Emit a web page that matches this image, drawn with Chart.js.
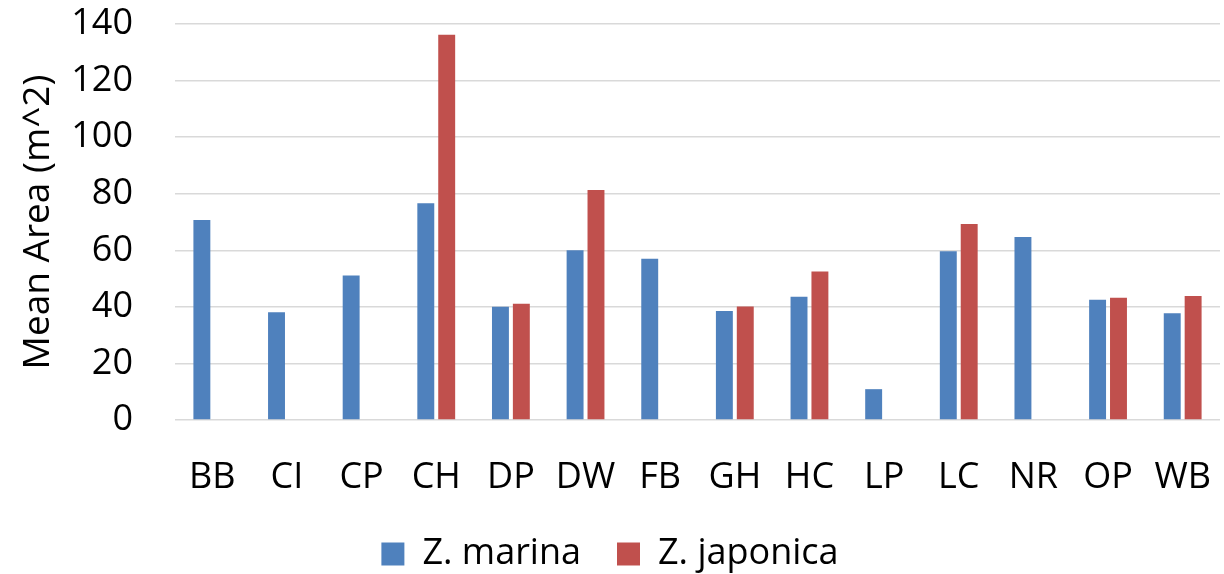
<!DOCTYPE html>
<html>
<head>
<meta charset="utf-8">
<script src="https://cdn.jsdelivr.net/npm/chart.js@4"></script>
<style>
  html, body { margin: 0; padding: 0; background: #fff; }
  #wrap { width: 1224px; height: 574px; }
</style>
</head>
<body>
<div id="wrap"><canvas class="chart"></canvas></div>
<script>
const sites = ["BB", "CI", "CP", "CH", "DP", "DW", "FB", "GH", "HC", "LP", "LC", "NR", "OP", "WB"];
const marina = [70.7, 38.1, 51.1, 76.6, 40.0, 60.0, 57.0, 38.5, 43.6, 10.9, 59.7, 64.7, 42.5, 37.7];
const japonica = [null, null, null, 136.2, 41.1, 81.3, null, 40.1, 52.5, null, 69.3, null, 43.2, 43.8];
const yTicks = [0, 20, 40, 60, 80, 100, 120, 140];

// keep the legend short so the wide item spacing doesn't eat into the plot
const legendHeight = {
    id: 'legendHeight',
    afterInit(chart) {
        const legend = chart.legend;
        const fit = legend.fit;
        legend.fit = function () {
            fit.call(this);
            this.height = 74;
        };
    }
};

document.addEventListener('DOMContentLoaded', function () {
    const chartCanvas = document.querySelector(".chart");
    const font = { family: 'Open Sans', size: 36 };

    new Chart(chartCanvas.getContext("2d"), {
        type: "bar",
        data: {
            labels: sites,
            datasets: [
                {
                    label: "Z. marina",
                    data: marina,
                    backgroundColor: "#4F81BD",
                    categoryPercentage: 0.56,
                    barPercentage: 0.81
                },
                {
                    label: "Z. japonica",
                    data: japonica,
                    backgroundColor: "#C0504D",
                    categoryPercentage: 0.56,
                    barPercentage: 0.81
                }
            ]
        },
        plugins: [legendHeight],
        options: {
            responsive: true,
            maintainAspectRatio: false,
            animation: false,
            layout: { padding: { top: 24, right: 4, left: 0, bottom: 0 } },
            plugins: {
                tooltip: { enabled: false },
                legend: {
                    position: 'bottom',
                    labels: {
                        font: font,
                        color: '#000',
                        boxWidth: 23,
                        boxHeight: 23,
                        padding: 36
                    }
                }
            },
            scales: {
                x: {
                    afterFit: function (scale) {
                        scale.paddingLeft = 0;
                        scale.paddingRight = 0;
                        scale.height = 80;
                    },
                    grid: { display: false, drawTicks: false },
                    border: { display: false },
                    ticks: { font: font, color: '#000', padding: 36, maxRotation: 0 }
                },
                y: {
                    min: 0,
                    max: 140,
                    afterBuildTicks: function (scale) {
                        scale.ticks = yTicks.map(v => ({ value: v }));
                    },
                    afterFit: function (scale) {
                        scale.width = 175;
                        scale.paddingTop = 0;
                        scale.paddingBottom = 0;
                    },
                    grid: { color: '#d9d9d9', lineWidth: 1.5, drawTicks: false },
                    border: { display: false },
                    ticks: { font: font, color: '#000', padding: 42 },
                    title: {
                        display: true,
                        text: 'Mean Area (m^2)',
                        font: { family: 'Open Sans', size: 37 },
                        color: '#000',
                        padding: { top: 16, bottom: 0 }
                    }
                }
            }
        }
    });
});
</script>
</body>
</html>
